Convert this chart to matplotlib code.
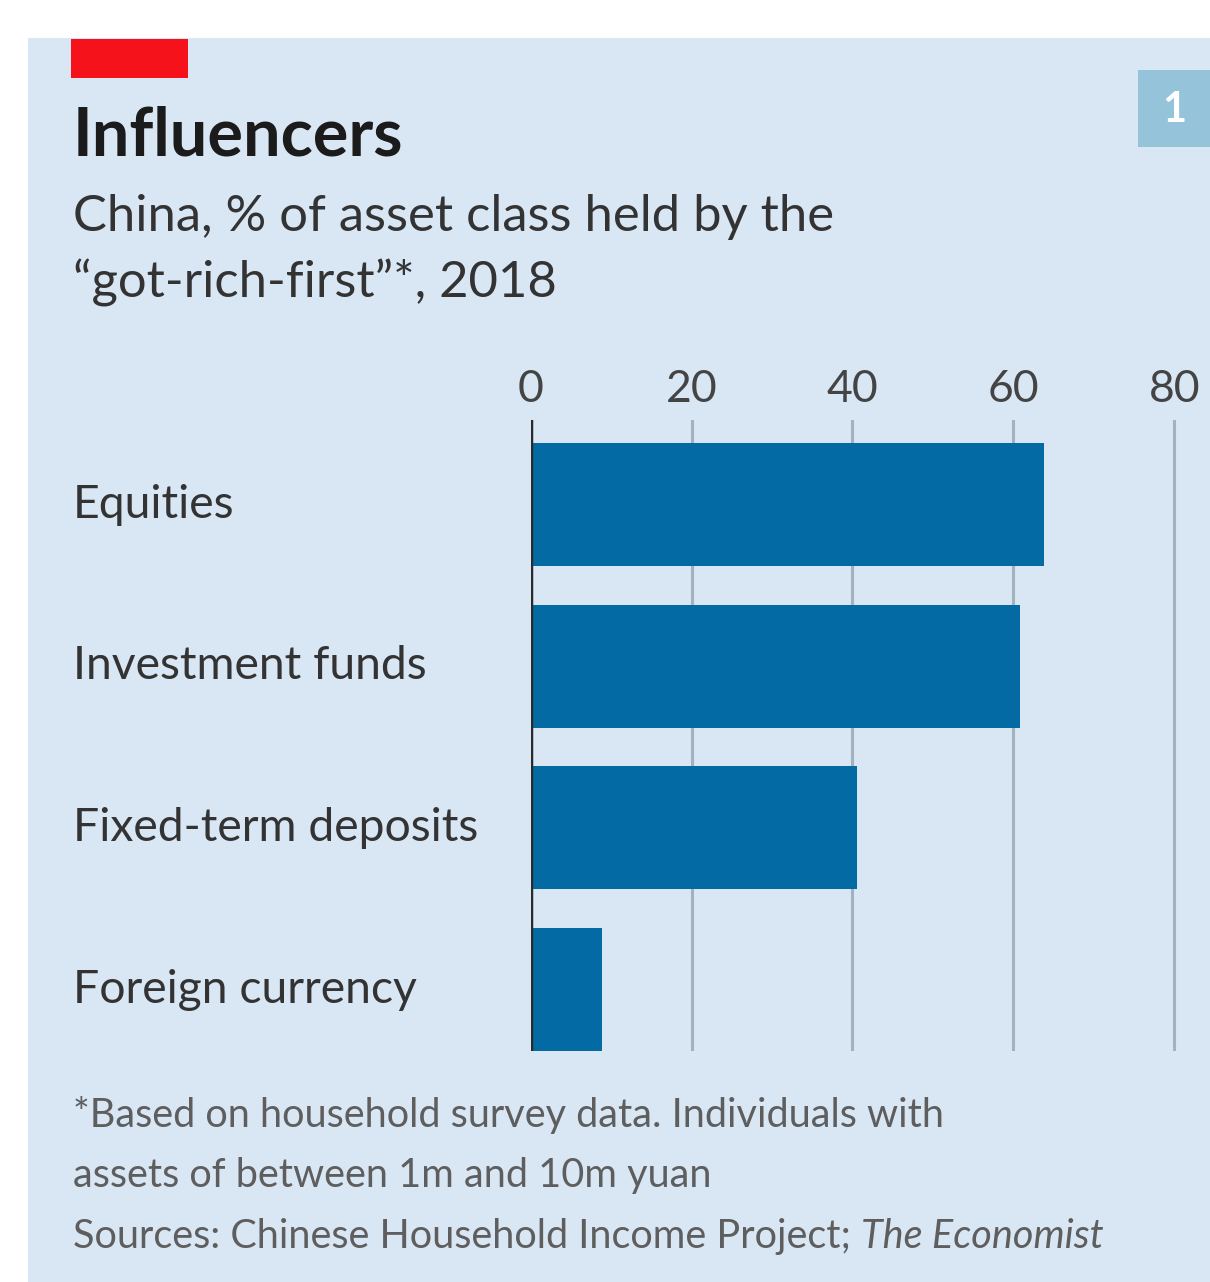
import matplotlib
matplotlib.use("Agg")
import matplotlib.pyplot as plt
import matplotlib.transforms as mtransforms
from matplotlib.patches import Rectangle

# Share of each asset class held by the "got-rich-first", %
categories = ["Equities", "Investment funds", "Fixed-term deposits", "Foreign currency"]
shares = [63.8, 60.8, 40.6, 8.9]
xticks = [0, 20, 40, 60, 80]

W, H = 1210, 1282
BG = "#d9e6f4"
BAR = "#046aa3"
GRID = "#a4b2c0"

def fx(px):
    return px / W

def fy(py):
    return 1 - py / H

plt.rcParams["font.family"] = ["Lato", "DejaVu Sans"]

fig = plt.figure(figsize=(W / 100, H / 100), dpi=100)
fig.patch.set_facecolor("white")

# panel background
fig.patches.append(Rectangle((fx(28), 0), 1 - fx(28), fy(38), transform=fig.transFigure,
                             facecolor=BG, edgecolor="none", zorder=-2))
# red tag and chart number
fig.patches.append(Rectangle((fx(71), fy(78)), fx(188) - fx(71), fy(39) - fy(78),
                             transform=fig.transFigure, facecolor="#f5121a", edgecolor="none",
                             zorder=-1))
fig.patches.append(Rectangle((fx(1138), fy(147)), 1 - fx(1138), fy(70) - fy(147),
                             transform=fig.transFigure, facecolor="#94c3da", edgecolor="none",
                             zorder=-1))
fig.text(fx(1174), fy(110), "1", color="white", fontsize=30, fontweight="bold",
         ha="center", va="center")

fig.text(fx(73), fy(155), "Influencers", fontsize=48, fontweight="bold", color="#1b1b1b",
         ha="left", va="baseline")
fig.text(fx(73), fy(231), "China, % of asset class held by the", fontsize=36.5, color="#333333",
         ha="left", va="baseline")
fig.text(fx(73), fy(298), "\u201cgot-rich-first\u201d*, 2018", fontsize=36.5, color="#333333",
         ha="left", va="baseline")

ax = fig.add_axes([fx(530.6), fy(1051), fx(1173) - fx(530.6) + 0.003, fy(420) - fy(1051)])
ax.set_facecolor("none")
ypos = list(range(len(categories)))
ax.barh(ypos, shares, height=0.76, color=BAR, zorder=3)
ax.set_xlim(0, 80.3)
ax.set_ylim(3.38, -0.523)

for t in xticks[1:]:
    ax.axvline(t, color=GRID, linewidth=2.2, zorder=1)
ax.axvline(0, color="#2a2a2a", linewidth=2.5, zorder=4)

ax.xaxis.tick_top()
ax.set_xticks(xticks)
ax.set_xticklabels([str(t) for t in xticks], fontsize=32, color="#444444")
ax.tick_params(axis="x", length=0, pad=7)
ax.set_yticks([])
for s in ax.spines.values():
    s.set_visible(False)

# category labels, left-aligned at the panel margin
trans = mtransforms.blended_transform_factory(fig.transFigure, ax.transData)
for y, name in zip(ypos, categories):
    ax.text(fx(73), y, name, transform=trans, fontsize=33.3, color="#333333",
            ha="left", va="center")

foot = dict(fontsize=28.5, color="#5e5e5e", ha="left", va="baseline")
fig.text(fx(73), fy(1127), "*Based on household survey data. Individuals with", **foot)
fig.text(fx(73), fy(1187), "assets of between 1m and 10m yuan", **foot)
t1 = fig.text(fx(73), fy(1248), "Sources: Chinese Household Income Project; ", **foot)
fig.canvas.draw()
bb = t1.get_window_extent()
fig.text(bb.x1 / W, fy(1248), "The Economist", style="italic", **foot)

fig.savefig("out.png", dpi=100, facecolor=fig.get_facecolor())
